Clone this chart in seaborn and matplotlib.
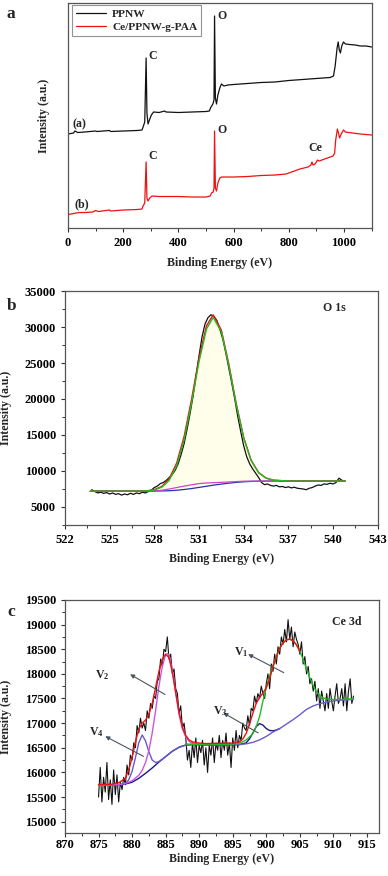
import matplotlib
matplotlib.use('Agg')
import matplotlib.pyplot as plt
import seaborn as sns
import numpy as np
import pandas as pd
from matplotlib.ticker import MultipleLocator

# ---------------- panel a: survey spectra ----------------
survey_ppnw_ev = [0, 10, 20, 25, 35, 60, 100, 105, 150, 155, 200, 250, 268, 272, 278,
                  283, 286, 290, 295, 302, 310, 330, 350, 355, 400, 450, 500, 512,
                  518, 525, 529, 531, 534, 538, 543, 550, 556, 565, 580, 600, 650,
                  700, 750, 800, 850, 900, 950, 962, 968, 975, 979, 983, 987, 992,
                  998, 1005, 1020, 1040, 1060, 1080, 1100]
survey_ppnw = [94, 94.5, 95, 97, 95.5, 96, 97, 96.5, 97.5, 96.5, 97, 97.5, 98, 101, 106,
               170, 115, 104, 108, 113, 116, 115.5, 117, 116, 115.5, 116, 116.5, 117,
               121, 124, 128, 212, 130, 124, 133, 140, 144, 142, 143, 143.5, 144.5,
               145.5, 146, 147.5, 148.5, 149.5, 150.5, 152, 162, 180, 186, 178, 175, 182,
               186, 184, 183.5, 183, 182, 182, 181]

survey_ce_ev = [0, 20, 40, 60, 90, 100, 110, 150, 155, 200, 250, 268, 272, 278, 283,
                286, 290, 296, 305, 330, 400, 450, 500, 515, 520, 526, 529, 531, 534,
                538, 543, 550, 556, 600, 650, 700, 750, 790, 810, 840, 870, 880, 884,
                888, 895, 900, 904, 910, 930, 960, 966, 970, 976, 980, 984, 990, 998,
                1005, 1030, 1060, 1080, 1100]
survey_ce = [13.5, 14.5, 15.5, 15.5, 16, 17.5, 16.5, 18, 17, 18, 18.5, 19, 22, 25, 66,
             30, 27, 30, 32, 31.5, 31.5, 31, 31, 32, 35, 36, 40, 97, 40,
             37, 45, 50, 51, 51, 51.5, 52.5, 53, 54, 56, 59, 61, 63, 66,
             63, 64, 66, 68, 67, 69, 72, 75, 88, 99, 95, 90, 94, 98,
             96, 95, 94, 93.5, 93]

# ---------------- panel b: O 1s ----------------
o1s_ev = [523.8, 524.0, 524.2, 524.4, 524.6, 524.8, 525.0, 525.2, 525.4, 525.6, 525.8,
          526.0, 526.2, 526.4, 526.6, 526.8, 527.0, 527.2, 527.4, 527.6, 527.8, 528.0,
          528.2, 528.4, 528.6, 528.8, 529.0, 529.2, 529.4, 529.6, 529.8, 530.0, 530.2,
          530.4, 530.6, 530.8, 531.0, 531.2, 531.4, 531.6, 531.8, 532.0, 532.2, 532.4,
          532.6, 532.8, 533.0, 533.2, 533.4, 533.6, 533.8, 534.0, 534.2, 534.4, 534.6,
          534.8, 535.0, 535.2, 535.4, 535.6, 535.8, 536.0, 536.2, 536.4, 536.6, 536.8,
          537.0, 537.2, 537.4, 537.6, 537.8, 538.0, 538.2, 538.4, 538.6, 538.8, 539.0,
          539.2, 539.4, 539.6, 539.8, 540.0, 540.2, 540.4, 540.6, 540.8]
o1s_counts = [7400, 7150, 6950, 7050, 6900, 7000, 6800, 6950, 6750, 6850, 6650,
              6800, 6700, 6900, 6750, 6950, 6850, 7050, 6950, 7150, 7350, 7700,
              7900, 8250, 8400, 8700, 9100, 9500, 10100, 11000, 12300, 13800, 15800,
              18000, 20400, 23200, 26000, 28600, 30400, 31300, 31700, 31500, 30900, 29700,
              28300, 26400, 24300, 22200, 20000, 17600, 15500, 13500, 12000, 11000, 10300,
              9700, 9100, 8400, 8100, 8200, 8000, 7900, 8000, 7800, 7850, 7700,
              7800, 7650, 7750, 7600, 7550, 7500, 7400, 7600, 7700, 7900, 8050,
              8000, 8200, 8150, 8300, 8200, 8400, 9000, 8700, 8600]

o1s_fit_ev = [523.7, 525, 526, 527, 527.5, 528, 528.5, 529, 529.5, 530, 530.5, 531,
              531.5, 531.95, 532.5, 533, 533.5, 534, 534.5, 535, 535.5, 536, 537, 538,
              539, 540, 540.8]
o1s_envelope = [7200, 7200, 7200, 7209, 7241, 7408, 7847, 8938, 11113, 14797, 19963,
                25702, 30162, 31680, 29576, 24860, 19332, 14652, 11488, 9786, 9013,
                8722, 8607, 8600, 8600, 8600, 8600]
o1s_main = [7200, 7200, 7200, 7209, 7241, 7368, 7747, 8698, 10743, 14327, 19443,
            25172, 29712, 31330, 29336, 24690, 19222, 14572, 11458, 9766, 9013,
            8722, 8607, 8600, 8600, 8600, 8600]
o1s_minor = [7200, 7200, 7200, 7200, 7210, 7250, 7330, 7500, 7700, 7900, 8080, 8250,
             8330, 8380, 8420, 8480, 8530, 8580, 8595, 8600, 8600, 8600, 8600, 8600,
             8600, 8600, 8600]
o1s_background = [7200, 7200, 7200, 7200, 7200, 7210, 7230, 7260, 7330, 7430, 7560,
                  7720, 7880, 8030, 8180, 8310, 8420, 8500, 8550, 8580, 8600, 8600,
                  8600, 8600, 8600, 8600, 8600]

# ---------------- panel c: Ce 3d ----------------
ce_start, ce_stop, ce_step = 875.0, 913.0, 0.25
ce_counts = [15500, 16100, 15400, 15900, 15600, 16200, 15450, 15850,
             15350, 16050, 15550, 15950, 15400, 15800, 15650, 15900,
             15750, 16150, 15950, 16350, 16250, 16600, 16500, 16950,
             16800, 17100, 16900, 17000, 16850, 17250, 17100, 17400,
             17300, 17550, 17500, 17850, 17900, 18300, 18150, 18500,
             18450, 18750, 18300, 18400, 18000, 18100, 17700, 17600,
             17200, 17350, 16900, 17000, 16700, 16250, 16450, 16100,
             16600, 16300, 16700, 16200, 16550, 16400, 16650, 16150,
             16500, 16000, 16550, 16350, 16700, 16200, 16600, 16450,
             16750, 16300, 16650, 16450, 16800, 16350, 16600, 16100,
             16700, 16450, 16850, 16500, 16750, 16650, 17000, 16900,
             16850, 17150, 16950, 17300, 17250, 17550, 17400, 17600,
             17500, 17750, 17600, 17500, 17800, 18000, 17700, 18200,
             18050, 18400, 18200, 18550, 18400, 18750, 18600, 18900,
             18650, 19100, 18700, 18950, 18550, 18850, 18700, 18600,
             18400, 18650, 18200, 18350, 18000, 18150, 17800, 17900,
             17650, 17850, 17450, 17700, 17300, 17650, 17450, 17250,
             17600, 17300, 17700, 17450, 17250, 17550, 17800, 17400,
             17500, 17700, 17350, 17800, 17250, 17650, 17900, 17400,
             17550]

ce_env_ev = [875, 877, 878, 879, 879.5, 880, 880.5, 881, 881.5, 882, 882.5, 883,
             883.5, 884, 884.5, 885, 885.5, 886, 886.5, 887, 887.5, 888, 888.5, 889,
             890, 891, 893, 895, 896, 896.5, 897, 897.5, 898, 898.5, 899, 899.5, 900,
             900.5, 901, 901.5, 902, 902.5, 903, 903.5, 904, 904.5, 905]
ce_envelope = [15750, 15760, 15790, 15880, 16050, 16300, 16620, 16880, 17000, 17060,
               17180, 17400, 17720, 18050, 18300, 18400, 18330, 18030, 17620, 17220,
               16920, 16750, 16660, 16620, 16595, 16585, 16590, 16595, 16620, 16680,
               16790, 16980, 17200, 17400, 17520, 17610, 17720, 17900, 18150, 18350,
               18520, 18630, 18690, 18705, 18670, 18590, 18460]

v1_ev = [888, 890, 893, 895, 896, 897, 897.5, 898, 898.5, 899, 899.5, 900, 900.5,
         901, 901.5, 902, 902.5, 903, 903.5, 904, 904.5, 905, 905.5, 906, 906.5, 907,
         907.5, 908, 908.5, 909, 910, 911, 912, 913]
v1_fit = [16575, 16570, 16570, 16575, 16590, 16660, 16720, 16790, 16930, 17130, 17450,
          17720, 17960, 18180, 18350, 18520, 18630, 18690, 18705, 18670, 18590, 18460,
          18290, 18100, 17920, 17760, 17630, 17560, 17510, 17490, 17480, 17480, 17488,
          17495]

v2_ev = [875, 878, 879, 880, 881, 881.5, 882, 882.5, 883, 883.5, 884, 884.5, 885,
         885.3, 885.5, 886, 886.5, 887, 887.5, 888, 888.5, 889, 890]
v2_fit = [15740, 15752, 15775, 15830, 15940, 16040, 16200, 16440, 16800, 17250, 17750,
          18150, 18390, 18410, 18380, 18080, 17620, 17180, 16880, 16720, 16630, 16590,
          16565]

# V3 peak drawn with the background underneath
v3_ev = [875, 878, 879, 880, 881, 882, 883, 884, 885, 886, 887, 888, 889, 890, 893,
         896, 897, 897.5, 898, 898.5, 899, 899.5, 900, 900.5, 901, 901.5, 902]
v3_fit = [15740, 15750, 15765, 15800, 15880, 15980, 16090, 16210, 16320, 16430, 16510,
          16555, 16565, 16560, 16555, 16565, 16600, 16680, 16800, 16930, 16990, 16960,
          16890, 16850, 16845, 16860, 16890]

# V4 peak continuing along the background
v4_ev = [875, 878, 879, 879.5, 880, 880.5, 881, 881.5, 882, 882.5, 883, 883.5, 884,
         884.5, 885, 886, 887, 888, 889, 890, 893, 896, 897, 898, 899, 900, 901, 902,
         903, 904, 905, 906, 907, 908, 909, 910, 911, 912, 913]
v4_fit = [15740, 15750, 15770, 15850, 16020, 16300, 16600, 16760, 16640, 16420, 16250,
          16200, 16220, 16270, 16320, 16430, 16510, 16555, 16565, 16560, 16555, 16565,
          16580, 16610, 16660, 16730, 16820, 16890, 16980, 17070, 17170, 17280, 17350,
          17395, 17430, 17450, 17465, 17475, 17480]

# arrows: label, text position, arrow tail, arrow head
peak_names = ['1', '2', '3', '4']
peak_text = [(895.2, 18440), (874.4, 17980), (892.0, 17250), (873.6, 16820)]
peak_tail = [(902.6, 18025), (884.9, 17583), (898.8, 16801), (881.7, 16325)]
peak_head = [(897.3, 18399), (879.7, 17991), (893.6, 17209), (876.0, 16733)]

# ---------------- style ----------------
sns.set_style('ticks')
plt.rcParams['font.family'] = ['Liberation Serif', 'DejaVu Serif']
plt.rcParams['font.weight'] = 'bold'
plt.rcParams['axes.labelweight'] = 'bold'
plt.rcParams['mathtext.fontset'] = 'custom'
plt.rcParams['mathtext.rm'] = 'Liberation Serif:bold'
plt.rcParams['mathtext.it'] = 'Liberation Serif:bold'
plt.rcParams['mathtext.bf'] = 'Liberation Serif:bold'
plt.rcParams['axes.edgecolor'] = '#555555'
plt.rcParams['axes.linewidth'] = 0.9
plt.rcParams['xtick.color'] = '#333333'
plt.rcParams['ytick.color'] = '#333333'
plt.rcParams['xtick.labelcolor'] = 'black'
plt.rcParams['ytick.labelcolor'] = 'black'

tick_fs = 9
label_fs = 8.6

fig = plt.figure(figsize=(3.88, 8.76), dpi=100)
ax_a = fig.add_axes([0.1753, 0.7397, 0.7824, 0.2569])
ax_b = fig.add_axes([0.1675, 0.4007, 0.8060, 0.2671])
ax_c = fig.add_axes([0.1675, 0.0491, 0.8093, 0.2660])


def frame(ax):
    for s in ax.spines.values():
        s.set_visible(True)
    ax.tick_params(which='major', direction='out', length=3, width=0.8, labelsize=tick_fs)
    ax.tick_params(which='minor', direction='out', length=2, width=0.7)


# panel a
sns.lineplot(x=survey_ppnw_ev, y=survey_ppnw, ax=ax_a, color='#111111', lw=0.9,
             label='PPNW')
sns.lineplot(x=survey_ce_ev, y=survey_ce, ax=ax_a, color='#ee1111', lw=0.9,
             label='Ce/PPNW-g-PAA')
ax_a.set_xlim(0, 1100)
ax_a.set_ylim(0, 225)
ax_a.set_yticks([])
ax_a.xaxis.set_major_locator(MultipleLocator(200))
ax_a.xaxis.set_minor_locator(MultipleLocator(100))
frame(ax_a)
ax_a.set_xlabel('Binding Energy (eV)', fontsize=label_fs)
ax_a.set_ylabel('Intensity (a.u.)', fontsize=label_fs)
ax_a.xaxis.set_label_coords(0.5, -0.13)
ax_a.yaxis.set_label_coords(-0.06, 0.5)
leg = ax_a.legend(loc='upper left', bbox_to_anchor=(0.012, 0.992), fontsize=8.2,
                  frameon=True, fancybox=False, edgecolor='#777777',
                  handlelength=2.7, borderpad=0.35, labelspacing=0.25,
                  handletextpad=0.5, borderaxespad=0)
leg.get_frame().set_linewidth(0.8)
for t in leg.get_texts():
    t.set_fontweight('bold')
txt = dict(fontsize=8.6, fontweight='bold', ha='left', va='center')
ax_a.text(18, 104, '(a)', **txt)
ax_a.text(23, 24, '(b)', **txt)
ax_a.text(292, 172, 'C', **txt)
ax_a.text(543, 212, 'O', **txt)
ax_a.text(292, 72, 'C', **txt)
ax_a.text(543, 98, 'O', **txt)
ax_a.text(870, 80, 'Ce', **txt)

# panel b
ax_b.fill_between(o1s_fit_ev, o1s_background, o1s_main, color='#fffeea', lw=0)
sns.lineplot(x=o1s_ev, y=o1s_counts, ax=ax_b, color='#111111', lw=0.9)
sns.lineplot(x=o1s_fit_ev, y=o1s_background, ax=ax_b, color='#2233aa', lw=0.9)
sns.lineplot(x=o1s_fit_ev, y=o1s_minor, ax=ax_b, color='#cc44cc', lw=0.9)
sns.lineplot(x=o1s_fit_ev, y=o1s_envelope, ax=ax_b, color='#ee1111', lw=1.0)
sns.lineplot(x=o1s_fit_ev, y=o1s_main, ax=ax_b, color='#22bb22', lw=1.0)
ax_b.set_xlim(522, 543)
ax_b.set_ylim(2500, 35000)
ax_b.xaxis.set_major_locator(MultipleLocator(3))
ax_b.xaxis.set_minor_locator(MultipleLocator(1.5))
ax_b.yaxis.set_major_locator(MultipleLocator(5000))
ax_b.yaxis.set_minor_locator(MultipleLocator(2500))
frame(ax_b)
ax_b.set_xlabel('Binding Energy (eV)', fontsize=label_fs)
ax_b.set_ylabel('Intensity (a.u.)', fontsize=label_fs)
ax_b.xaxis.set_label_coords(0.5, -0.12)
ax_b.yaxis.set_label_coords(-0.17, 0.5)
ax_b.text(539.3, 32700, 'O 1s', fontsize=8.6, fontweight='bold', ha='left', va='center')

# panel c
ce_energy = np.arange(ce_start, ce_stop + ce_step / 2, ce_step)
ce_df = pd.DataFrame({'energy': ce_energy, 'counts': ce_counts})
sns.lineplot(data=ce_df, x='energy', y='counts', ax=ax_c, color='#111111', lw=0.8)
sns.lineplot(x=v3_ev, y=v3_fit, ax=ax_c, color='#1a1a80', lw=1.0)
sns.lineplot(x=v4_ev, y=v4_fit, ax=ax_c, color='#6a5acd', lw=1.0)
sns.lineplot(x=v2_ev, y=v2_fit, ax=ax_c, color='#cc55dd', lw=1.0)
sns.lineplot(x=v1_ev, y=v1_fit, ax=ax_c, color='#22bb22', lw=1.0)
sns.lineplot(x=ce_env_ev, y=ce_envelope, ax=ax_c, color='#ee1111', lw=1.0)
ax_c.set_xlim(870, 916.8)
ax_c.set_ylim(14770, 19500)
ax_c.xaxis.set_major_locator(MultipleLocator(5))
ax_c.xaxis.set_minor_locator(MultipleLocator(2.5))
ax_c.yaxis.set_major_locator(MultipleLocator(500))
ax_c.yaxis.set_minor_locator(MultipleLocator(250))
frame(ax_c)
ax_c.tick_params(axis='x', which='major', pad=1)
ax_c.set_xlabel('Binding Energy (eV)', fontsize=label_fs)
ax_c.set_ylabel('Intensity (a.u.)', fontsize=label_fs)
ax_c.xaxis.set_label_coords(0.5, -0.088)
ax_c.yaxis.set_label_coords(-0.17, 0.5)
ax_c.text(909.8, 19050, 'Ce 3d', fontsize=8.6, fontweight='bold', ha='left', va='center')
for name, tp, tail, head in zip(peak_names, peak_text, peak_tail, peak_head):
    ax_c.annotate('', xy=head, xytext=tail,
                  arrowprops=dict(arrowstyle='-|>', color='#4a5560', lw=0.8,
                                  mutation_scale=6, shrinkA=0, shrinkB=0))
    ax_c.text(tp[0], tp[1], 'V$_{' + name + '}$', fontsize=8.6, ha='left', va='center')

fig.text(0.018, 0.993, 'a', fontsize=12.5, fontweight='bold', ha='left', va='top')
fig.text(0.018, 0.660, 'b', fontsize=12.5, fontweight='bold', ha='left', va='top')
fig.text(0.018, 0.310, 'c', fontsize=12.5, fontweight='bold', ha='left', va='top')

fig.savefig('out.png', dpi=100)
